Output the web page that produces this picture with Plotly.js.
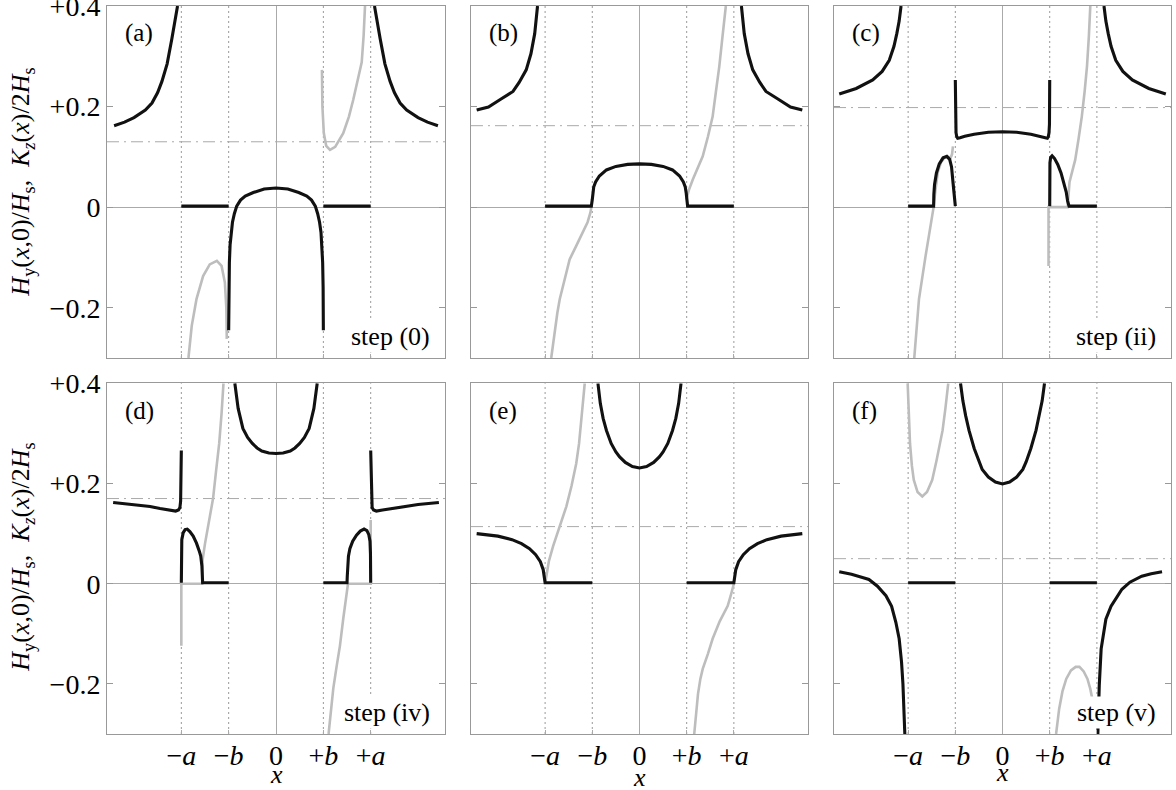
<!DOCTYPE html>
<html>
<head>
<meta charset="utf-8">
<script src="https://cdn.plot.ly/plotly-3.0.1.min.js"></script>
<style>html,body{margin:0;padding:0;background:#fff;}#chart{width:1176px;height:790px;}</style>
</head>
<body>
<div id="chart"></div>
<script>
// ---- characteristic positions (x in units of b) ----
const A = 2, B = 1, XMAX = 3.57;
const panelLetters = ['(a)', '(b)', '(c)', '(d)', '(e)', '(f)'];
const stepLabels = ['step (0)', '', 'step (ii)', 'step (iv)', '', 'step (v)'];
const refLevels = [0.13, 0.162, 0.198, 0.17, 0.114, 0.05];
const xTickVals = [-A, -B, 0, B, A];
const xTickText = ['\u2212<i>a</i>', '\u2212<i>b</i>', '0', '+<i>b</i>', '+<i>a</i>'];
const yTickVals = [-0.2, 0, 0.2, 0.4];
const yTickText = ['\u22120.2', '0', '+0.2', '+0.4'];

// ---- panel (a): step (0) ----
const aBlackX = [-3.42,-3.2,-3.0,-2.76,-2.62,-2.5,-2.41,-2.3,-2.2,-2.13,-2.08, null,
  2.08,2.13,2.2,2.3,2.41,2.5,2.62,2.76,3.0,3.2,3.42, null,
  -2,-1, null, 1,2, null,
  -1.0,-0.995,-0.985,-0.97,-0.95,-0.92,-0.88,-0.83,-0.75,-0.65,-0.48,-0.25,0,0.25,0.48,0.65,0.75,0.83,0.88,0.92,0.95,0.97,0.985,0.995,1.0];
const aBlackY = [0.162,0.169,0.178,0.193,0.207,0.228,0.25,0.285,0.335,0.37,0.4, null,
  0.4,0.37,0.335,0.285,0.25,0.228,0.207,0.193,0.178,0.169,0.162, null,
  0.002,0.002, null, 0.002,0.002, null,
  -0.245,-0.16,-0.11,-0.075,-0.05,-0.03,-0.013,0.002,0.014,0.022,0.029,0.036,0.038,0.036,0.029,0.022,0.014,0.002,-0.013,-0.03,-0.05,-0.075,-0.11,-0.16,-0.245];
const aGrayX = [-1.85,-1.78,-1.68,-1.54,-1.40,-1.25,-1.15,-1.08,-1.05,-1.04, null,
  0.97,0.98,1.01,1.06,1.14,1.25,1.42,1.54,1.63,1.72,1.81,1.85,1.88];
const aGrayY = [-0.3,-0.236,-0.183,-0.137,-0.114,-0.107,-0.117,-0.15,-0.2,-0.262, null,
  0.273,0.2,0.147,0.122,0.114,0.12,0.147,0.18,0.213,0.25,0.288,0.34,0.4];

// ---- panel (b) ----
const bBlackX = [-3.45,-3.2,-2.95,-2.68,-2.55,-2.4,-2.3,-2.22,-2.16, null,
  2.16,2.22,2.3,2.4,2.55,2.68,2.95,3.2,3.45, null,
  -2,-1.02,-1.0,-0.99,-0.97,-0.93,-0.85,-0.7,-0.5,-0.25,0,0.25,0.5,0.7,0.85,0.93,0.97,0.99,1.0,1.02,2];
const bBlackY = [0.193,0.199,0.214,0.23,0.248,0.273,0.305,0.345,0.4, null,
  0.4,0.345,0.305,0.273,0.248,0.23,0.214,0.199,0.193, null,
  0.002,0.002,0.015,0.028,0.04,0.05,0.062,0.074,0.081,0.085,0.086,0.085,0.081,0.074,0.062,0.05,0.04,0.028,0.015,0.002,0.002];
const bGrayX = [-1.87,-1.8,-1.74,-1.69,-1.58,-1.48,-1.33,-1.2,-1.1,-1.04,-1.02, null,
  0.99,1.05,1.13,1.24,1.34,1.45,1.55,1.62,1.69,1.76,1.83];
const bGrayY = [-0.3,-0.25,-0.21,-0.183,-0.14,-0.104,-0.075,-0.051,-0.03,-0.011,0.0, null,
  0.015,0.035,0.055,0.078,0.101,0.14,0.18,0.23,0.279,0.34,0.4];

// ---- panel (c): step (ii) ----
const cBlackX = [-3.46,-3.1,-2.75,-2.55,-2.4,-2.3,-2.24,-2.19,-2.15, null,
  2.15,2.19,2.24,2.3,2.4,2.55,2.75,3.1,3.46, null,
  -1.0,-1.0,-0.995,-0.985,-0.97,-0.95,-0.9,-0.8,-0.6,-0.3,0,0.3,0.6,0.8,0.9,0.95,0.97,0.985,0.995,1.0,1.0, null,
  -2,-1.46,-1.455,-1.44,-1.4,-1.34,-1.26,-1.18,-1.12,-1.08,-1.05,-1.02,-1.0, null,
  1.0,1.0,1.005,1.02,1.05,1.1,1.17,1.24,1.3,1.35,1.38,1.4,1.41,2.0];
const cBlackY = [0.225,0.236,0.253,0.27,0.292,0.32,0.345,0.37,0.4, null,
  0.4,0.37,0.345,0.32,0.292,0.27,0.253,0.236,0.225, null,
  0.253,0.2,0.165,0.148,0.14,0.137,0.138,0.141,0.145,0.149,0.15,0.149,0.145,0.141,0.138,0.137,0.14,0.148,0.165,0.2,0.253, null,
  0.002,0.002,0.025,0.045,0.068,0.086,0.098,0.101,0.095,0.08,0.05,0.015,0.002, null,
  0.002,0.06,0.088,0.099,0.102,0.097,0.085,0.068,0.05,0.03,0.012,0.002,0.002,0.002];
const cGrayX = [-1.87,-1.77,-1.63,-1.52,-1.46,-1.42,-1.37,-1.3,-1.22,-1.15,-1.1,-1.07,-1.05, null,
  0.975,0.975,1.38,1.39,1.42,1.48,1.54,1.61,1.68,1.74,1.79,1.83,1.86];
const cGrayY = [-0.3,-0.183,-0.097,-0.03,0.0,0.035,0.07,0.09,0.099,0.1,0.098,0.105,0.121, null,
  -0.117,0.0,0.0,0.02,0.05,0.072,0.094,0.135,0.18,0.23,0.28,0.34,0.4];

// ---- panel (d): step (iv) ----
const dBlackX = [-3.44,-3.0,-2.66,-2.45,-2.25,-2.12,-2.06,-2.03,-2.015,-2.01,-2.0, null,
  2.0,2.01,2.015,2.03,2.06,2.12,2.25,2.45,2.66,3.0,3.44, null,
  -0.87,-0.8,-0.7,-0.6,-0.5,-0.4,-0.3,-0.15,0,0.15,0.3,0.4,0.5,0.6,0.7,0.8,0.87, null,
  -2.0,-2.0,-1.99,-1.96,-1.92,-1.875,-1.82,-1.75,-1.68,-1.62,-1.59,-1.565,-1.555,-1.55,-1.0, null,
  1.0,1.5,1.505,1.515,1.53,1.56,1.62,1.7,1.78,1.86,1.92,1.96,1.985,1.995,2.0,2.0];
const dBlackY = [0.162,0.158,0.154,0.15,0.147,0.145,0.147,0.152,0.165,0.2,0.266, null,
  0.266,0.2,0.165,0.152,0.147,0.145,0.147,0.15,0.154,0.158,0.162, null,
  0.4,0.35,0.31,0.292,0.28,0.271,0.265,0.261,0.26,0.261,0.265,0.271,0.28,0.292,0.31,0.35,0.4, null,
  0.002,0.06,0.088,0.102,0.108,0.109,0.104,0.095,0.081,0.065,0.055,0.035,0.015,0.002,0.002, null,
  0.002,0.002,0.015,0.035,0.055,0.07,0.085,0.097,0.105,0.109,0.106,0.098,0.085,0.06,0.03,0.002];
const dGrayX = [-2.0,-2.0,-1.56,-1.55,-1.5,-1.43,-1.33,-1.26,-1.2,-1.15,-1.11, null,
  1.11,1.16,1.21,1.28,1.35,1.42,1.49,1.52,2.0,2.0];
const dGrayY = [-0.124,0.0,0.0,0.048,0.08,0.115,0.17,0.23,0.28,0.34,0.4, null,
  -0.3,-0.25,-0.209,-0.165,-0.124,-0.07,-0.018,0.0,0.0,0.127];

// ---- panel (e) ----
const eBlackX = [-3.45,-3.0,-2.7,-2.5,-2.33,-2.2,-2.1,-2.04,-2.015,-2.0,-1.0, null,
  1.0,2.0,2.015,2.04,2.1,2.2,2.33,2.5,2.7,3.0,3.45, null,
  -0.88,-0.83,-0.77,-0.7,-0.6,-0.5,-0.42,-0.3,-0.15,0,0.15,0.3,0.42,0.5,0.6,0.7,0.77,0.83,0.88];
const eBlackY = [0.1,0.095,0.088,0.08,0.07,0.058,0.044,0.028,0.012,0.002,0.002, null,
  0.002,0.002,0.012,0.028,0.044,0.058,0.07,0.08,0.088,0.095,0.1, null,
  0.4,0.36,0.33,0.306,0.28,0.263,0.253,0.242,0.234,0.231,0.234,0.242,0.253,0.263,0.28,0.306,0.33,0.36,0.4];
const eGrayX = [-2.0,-1.97,-1.92,-1.83,-1.7,-1.55,-1.44,-1.34,-1.28,-1.23,-1.19,-1.16, null,
  1.16,1.2,1.24,1.29,1.34,1.45,1.55,1.7,1.8,1.87,1.93,2.0];
const eGrayY = [0.0,0.02,0.045,0.075,0.11,0.154,0.195,0.24,0.28,0.325,0.36,0.4, null,
  -0.3,-0.255,-0.22,-0.19,-0.17,-0.14,-0.11,-0.075,-0.058,-0.044,-0.025,0.0];

// ---- panel (f): step (v) ----
const fBlackX = [-3.46,-3.2,-2.95,-2.83,-2.65,-2.47,-2.35,-2.26,-2.19,-2.14,-2.11,-2.08,-2.07, null,
  2.02,2.03,2.04,2.05,2.09,2.19,2.3,2.4,2.53,2.7,2.95,3.15,3.38, null,
  -2,-1, null, 1,2, null,
  -0.89,-0.84,-0.78,-0.71,-0.6,-0.5,-0.43,-0.3,-0.15,0,0.15,0.3,0.43,0.5,0.6,0.71,0.78,0.84,0.89];
const fBlackY = [0.024,0.019,0.012,0.0085,-0.005,-0.024,-0.045,-0.077,-0.11,-0.156,-0.2,-0.26,-0.3, null,
  -0.3,-0.26,-0.229,-0.203,-0.13,-0.071,-0.045,-0.031,-0.011,0.003,0.015,0.02,0.024, null,
  0.002,0.002, null, 0.002,0.002, null,
  0.4,0.365,0.335,0.306,0.27,0.243,0.228,0.213,0.203,0.199,0.203,0.213,0.228,0.243,0.27,0.306,0.335,0.365,0.4];
const fGrayX = [-2.01,-1.99,-1.96,-1.92,-1.88,-1.8,-1.7,-1.6,-1.49,-1.4,-1.32,-1.27,-1.21,-1.15, null,
  1.135,1.2,1.27,1.35,1.45,1.55,1.63,1.72,1.8,1.86,1.9,1.92];
const fGrayY = [0.4,0.33,0.28,0.235,0.207,0.183,0.174,0.183,0.207,0.245,0.285,0.306,0.35,0.4, null,
  -0.3,-0.25,-0.215,-0.19,-0.173,-0.166,-0.166,-0.175,-0.19,-0.21,-0.229,-0.25];

const panels = [
  [aBlackX, aBlackY, aGrayX, aGrayY],
  [bBlackX, bBlackY, bGrayX, bGrayY],
  [cBlackX, cBlackY, cGrayX, cGrayY],
  [dBlackX, dBlackY, dGrayX, dGrayY],
  [eBlackX, eBlackY, eGrayX, eGrayY],
  [fBlackX, fBlackY, fGrayX, fGrayY]
];

const FONT = '"Times New Roman", "Liberation Serif", Times, "DejaVu Serif", serif';
const TXT = '#000';
const xDoms = [[0, 0.3177], [0.3421, 0.6588], [0.6833, 1]];
const yDoms = [[0.5165, 1], [0, 0.4817]];

const traces = [];
const layout = {
  width: 1176, height: 790,
  margin: {l: 107, r: 5, t: 6, b: 56},
  paper_bgcolor: '#fff', plot_bgcolor: '#fff',
  showlegend: false,
  font: {family: FONT, size: 26, color: TXT},
  shapes: [], annotations: []
};

panels.forEach((p, i) => {
  const n = i + 1;
  const xa = n === 1 ? 'x' : 'x' + n;
  const ya = n === 1 ? 'y' : 'y' + n;
  const col = i % 3, row = Math.floor(i / 3);
  traces.push({x: p[2], y: p[3], xaxis: xa, yaxis: ya, mode: 'lines',
    line: {color: '#bdbdbd', width: 2.6}, hoverinfo: 'skip'});
  traces.push({x: p[0], y: p[1], xaxis: xa, yaxis: ya, mode: 'lines',
    line: {color: '#111', width: 3.1}, hoverinfo: 'skip'});
  layout['xaxis' + (n === 1 ? '' : n)] = {
    domain: xDoms[col], anchor: ya, range: [-XMAX, XMAX],
    showgrid: false, zeroline: true, zerolinecolor: '#aaa', zerolinewidth: 1,
    showline: true, linecolor: '#999', linewidth: 1, mirror: true,
    ticks: 'inside', ticklen: 4, tickcolor: '#aaa',
    tickvals: xTickVals, ticktext: xTickText,
    showticklabels: row === 1, ticklabeloverflow: 'allow', ticklabelstandoff: -4,
    tickfont: {family: FONT, size: 28, color: TXT}, fixedrange: true
  };
  layout['yaxis' + (n === 1 ? '' : n)] = {
    domain: yDoms[row], anchor: xa, range: [-0.3, 0.4],
    showgrid: false, zeroline: true, zerolinecolor: '#aaa', zerolinewidth: 1,
    showline: true, linecolor: '#999', linewidth: 1, mirror: 'ticks',
    ticks: 'inside', ticklen: 6, tickcolor: '#999',
    tickvals: yTickVals, ticktext: yTickText,
    showticklabels: col === 0, ticklabeloverflow: 'allow',
    tickfont: {family: FONT, size: 28, color: TXT}, fixedrange: true
  };
  xTickVals.forEach(v => {
    if (v === 0) return;
    layout.shapes.push({type: 'line', xref: xa, yref: ya + ' domain', x0: v, x1: v, y0: 0, y1: 1,
      line: {color: '#999', width: 1, dash: '2px,3px'}, layer: 'below'});
  });
  layout.shapes.push({type: 'line', xref: xa + ' domain', yref: ya, x0: 0, x1: 1,
    y0: refLevels[i], y1: refLevels[i],
    line: {color: '#aaa', width: 1, dash: '12px,5px,2px,5px'}, layer: 'below'});
  layout.annotations.push({text: panelLetters[i], xref: xa + ' domain', yref: ya + ' domain',
    x: 0.048, y: 0.922, xanchor: 'left', yanchor: 'middle', showarrow: false,
    font: {family: FONT, size: 25, color: TXT}});
  if (stepLabels[i]) {
    layout.annotations.push({text: stepLabels[i], xref: xa + ' domain', yref: ya + ' domain',
      x: 0.962, y: 0.06, xanchor: 'right', yanchor: 'middle', showarrow: false,
      bgcolor: '#fff', borderpad: 1,
      font: {family: FONT, size: 26, color: TXT}});
  }
});

// y-axis titles (left column)
const yTitle = '<i>H</i><sub>y</sub>(<i>x</i>,0)/<i>H</i><sub>s</sub>,\u00a0\u00a0<i>K</i><sub><i>z</i></sub>(<i>x</i>)/2<i>H</i><sub>s</sub>';
[0.7587, 0.2435].forEach(yc => {
  layout.annotations.push({text: yTitle, xref: 'paper', yref: 'paper', x: -0.0799, y: yc,
    xanchor: 'center', yanchor: 'middle', textangle: -90, showarrow: false,
    font: {family: FONT, size: 26, color: TXT}});
});
// x-axis titles (bottom row)
[['x4', -0.0563], ['x5', -0.0600], ['x6', -0.0522]].forEach(([xa, yp]) => {
  layout.annotations.push({text: '<i>x</i>', xref: xa, yref: 'paper', x: 0, y: yp,
    xanchor: 'center', yanchor: 'middle', showarrow: false,
    font: {family: FONT, size: 26, color: TXT}});
});

Plotly.newPlot('chart', traces, layout, {staticPlot: true, displayModeBar: false});
</script>
</body>
</html>
